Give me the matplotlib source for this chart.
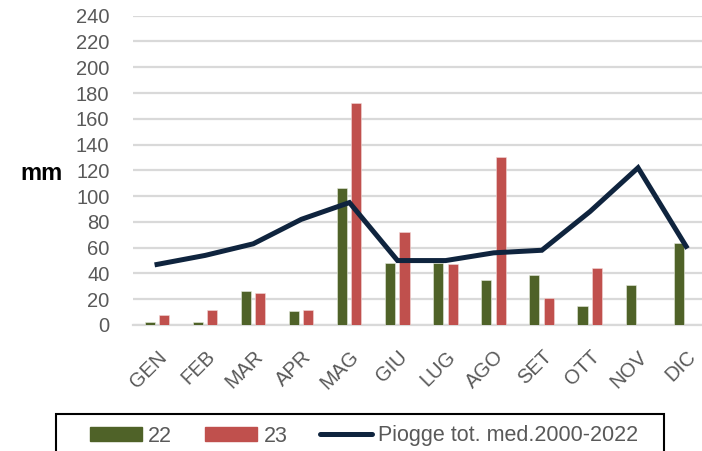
import numpy as np
import matplotlib.pyplot as plt
from matplotlib.patches import Rectangle, Patch
from matplotlib.lines import Line2D

# dati mensili (mm)
mesi = ['GEN', 'FEB', 'MAR', 'APR', 'MAG', 'GIU', 'LUG', 'AGO', 'SET', 'OTT', 'NOV', 'DIC']
pioggia_22 = [2, 2, 26, 11, 106, 48, 48, 35, 39, 15, 31, 64]
pioggia_23 = [8, 12, 25, 12, 172, 72, 47, 130, 21, 44, 0, 0]
media_2000_2022 = [47, 54, 63, 82, 95, 50, 50, 56, 58, 88, 122, 61]

verde = '#4F6228'
rosso = '#C0504D'
blu = '#0F243E'
grigio = '#595959'
font = 'Liberation Sans'

W, H = 702, 451
fig = plt.figure(figsize=(W / 100, H / 100), dpi=100)
ax = fig.add_axes([133 / W, (H - 325) / H, (W - 133) / W, (325 - 15.7) / H])

x = np.arange(len(mesi))
larg = 0.21
ax.bar(x - 0.155, pioggia_22, larg, color=verde, edgecolor='#E8ECDF', linewidth=0.4, zorder=3)
ax.bar(x + 0.145, pioggia_23, larg, color=rosso, edgecolor='#F2D9D8', linewidth=0.4, zorder=3)
ax.plot(x, media_2000_2022, color=blu, linewidth=3.6, solid_joinstyle='miter', zorder=4)

ax.set_ylim(0, 240)
ax.set_yticks(range(0, 241, 20))
ax.set_xlim(-0.5, -0.5 + (W - 133) / 48.1)
ax.grid(axis='y', color='#D9D9D9', linewidth=1.6, zorder=0)
ax.set_axisbelow(True)
for s in ['top', 'right', 'left']:
    ax.spines[s].set_visible(False)
ax.spines['bottom'].set_color('#D9D9D9')
ax.spines['bottom'].set_linewidth(1.6)
ax.tick_params(axis='y', length=0, pad=17, labelsize=14.5, labelcolor=grigio)
ax.tick_params(axis='x', length=0, pad=16, labelsize=14.5, labelcolor=grigio)
ax.set_xticks(x)
ax.set_xticklabels(mesi, rotation=45, ha='right', rotation_mode='anchor')
for t in ax.get_xticklabels() + ax.get_yticklabels():
    t.set_fontfamily(font)

fig.text(20 / W, (H - 173) / H, 'mm', fontsize=17, fontweight='bold',
         family=font, va='center', ha='left')

# riquadro legenda
fig.patches.append(Rectangle((56 / W, -0.05), (664 - 56) / W, (H - 414) / H + 0.05,
                             transform=fig.transFigure, fill=False,
                             edgecolor='black', linewidth=1.5))
handles = [Patch(color=verde), Patch(color=rosso),
           Line2D([0], [0], color=blu, linewidth=3.6, solid_capstyle='round')]
leg = fig.legend(handles, ['22', '23', 'Piogge tot. med.2000-2022'], loc='center',
                 bbox_to_anchor=(364 / W, (H - 436) / H), ncol=3, frameon=False,
                 prop={'family': font, 'size': 15.5},
                 handlelength=2.45, handleheight=0.65, handletextpad=0.28,
                 columnspacing=1.5)
for t in leg.get_texts():
    t.set_color(grigio)

fig.savefig('out.png', dpi=100)
